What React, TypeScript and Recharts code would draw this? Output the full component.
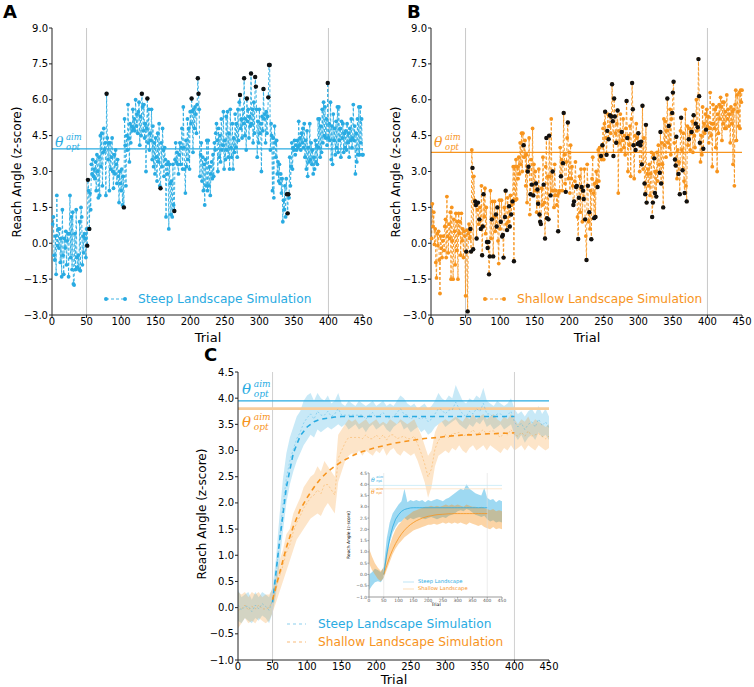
import React from 'react';
import { ComposedChart, Line, Area, XAxis, YAxis, ReferenceLine } from 'recharts';

const BLUE = '#29abe2';
const ORANGE = '#f7941d';
const FONT = '"DejaVu Sans", sans-serif';
const SERIF = '"DejaVu Serif", serif';

const trialTicks = [0, 50, 100, 150, 200, 250, 300, 350, 400, 450];
const abTicks = [-3, -1.5, 0, 1.5, 3, 4.5, 6, 7.5, 9];
const cTicks = [-1, -0.5, 0, 0.5, 1, 1.5, 2, 2.5, 3, 3.5, 4, 4.5];

// Panel A: steep landscape, reach angle per trial (1..450)
const steepTrials = [
  0.8, 1.1, -0.5, -0.7, 0.3, -1.3, 2.0, -0.1, 0.6, -0.2, 0.6, -0.8, 0.2, -1.4, 1.4, -0.5, -1.3, 0.2, -0.2, 0.5, -0.9, 0.1, 0.4, -1.4, 0.4,
  2.0, -0.6, 1.1, -1.1, 1.3, -1.7, -1.75, 0.4, -1.1, 1.4, -0.6, -1.0, -0.5, -1.1, 0.9, -1.15, 1.5, 1.1, -0.9, 0.3, -0.4, 0.4, 0.2, -0.6, 0.6,
  -0.1, 2.65, 2.2, 0.6, 2.1, 1.4, 3.3, 2.9, 3.5, 2.8, 3.1, 2.7, 3.4, 2.2, 3.7, 3.0, 1.9, 3.6, 2.0, 4.5, 3.2, 4.6, 2.4, 3.8, 4.8,
  3.9, 4.2, 2.0, 6.25, 4.4, 3.5, 4.2, 2.2, 4.2, 3.1, 3.6, 4.4, 3.0, 2.3, 3.7, 2.9, 3.9, 3.3, 2.5, 3.5, 2.8, 1.7, 3.0, 2.5, 2.2,
  3.1, 1.6, 2.8, 1.5, 5.2, 4.1, 2.4, 4.5, 3.9, 5.8, 4.4, 3.4, 5.0, 4.2, 4.9, 4.7, 5.6, 4.8, 5.2, 4.7, 6.0, 4.9, 5.4, 4.6, 5.5,
  5.9, 4.1, 5.3, 4.5, 6.25, 5.7, 4.7, 5.8, 4.4, 5.0, 3.0, 4.8, 6.05, 4.2, 5.6, 3.9, 4.6, 4.3, 5.6, 3.5, 4.9, 3.2, 4.2, 2.9, 4.4,
  3.6, 2.6, 4.6, 3.4, 5.0, 2.4, 2.3, 4.2, 3.2, 4.8, 3.9, 2.8, 4.0, 3.5, 1.1, 3.3, 2.9, 3.4, 0.6, 3.3, 2.5, 1.2, 2.6, 1.1, 3.3,
  1.6, 1.35, 3.5, 4.2, 3.4, 3.8, 3.3, 2.9, 3.7, 4.2, 3.3, 4.0, 4.8, 3.1, 5.7, 4.0, 3.1, 2.1, 4.3, 3.2, 5.2, 3.5, 4.8, 3.1, 5.5,
  5.0, 6.05, 5.5, 3.8, 5.6, 4.8, 5.7, 5.4, 4.6, 5.8, 6.9, 6.25, 5.6, 2.8, 3.7, 4.2, 2.6, 3.6, 2.2, 3.3, 1.6, 3.5, 2.4, 4.3, 2.2,
  4.3, 2.4, 3.2, 2.0, 2.9, 3.4, 2.7, 3.7, 2.8, 4.2, 3.9, 4.6, 5.0, 4.3, 3.0, 4.8, 3.6, 4.5, 3.4, 5.2, 3.9, 4.1, 5.5, 3.1, 4.3,
  3.5, 5.3, 3.9, 5.5, 3.6, 4.6, 3.1, 5.6, 4.0, 3.6, 5.0, 3.1, 4.4, 3.8, 5.4, 4.0, 5.0, 3.6, 5.6, 4.3, 5.9, 6.2, 4.8, 5.2, 4.4,
  5.6, 5.0, 6.9, 4.5, 5.2, 3.9, 6.05, 5.1, 5.6, 4.4, 5.3, 4.9, 7.1, 5.0, 5.6, 4.2, 5.9, 4.6, 6.95, 6.55, 5.6, 3.6, 5.1, 4.2, 5.6,
  4.6, 5.0, 3.0, 5.3, 4.7, 6.45, 5.2, 5.4, 4.2, 5.5, 4.6, 5.3, 6.1, 7.45, 7.45, 3.9, 5.0, 4.5, 2.2, 4.4, 1.9, 4.9, 4.2, 3.6, 4.3,
  2.9, 3.4, 2.6, 3.3, 2.5, 2.9, 2.1, 2.7, 0.9, 1.8, 1.4, 2.4, 1.1, 2.7, 2.05, 1.25, 2.05, 1.9, 3.6, 2.4, 3.2, 4.2, 3.1, 4.0, 3.9,
  4.3, 3.7, 4.1, 3.9, 4.3, 4.0, 5.1, 4.1, 4.4, 3.9, 4.6, 4.2, 4.8, 4.0, 5.0, 3.6, 4.3, 3.1, 4.7, 2.8, 4.0, 3.4, 5.0, 3.5, 4.2,
  3.3, 3.9, 2.9, 3.6, 3.1, 4.3, 3.4, 4.1, 3.3, 5.2, 4.0, 5.2, 3.6, 4.9, 3.8, 5.6, 4.2, 5.9, 4.5, 5.7, 4.4, 5.2, 4.1, 6.7, 4.4,
  5.0, 4.3, 5.9, 3.5, 4.9, 3.3, 5.4, 4.3, 4.8, 3.7, 5.1, 4.0, 5.7, 3.8, 5.7, 4.3, 4.8, 3.6, 5.1, 4.4, 5.0, 3.8, 4.6, 4.0, 4.7,
  3.9, 5.0, 4.2, 4.6, 3.6, 4.8, 4.3, 5.2, 4.0, 4.4, 5.8, 4.3, 4.9, 2.9, 4.6, 3.4, 5.2, 3.7, 5.7, 3.7, 5.7, 4.2, 5.2, 3.7, 3.7,
];
// trials drawn as black dots
const steepExplore = [51, 52, 54, 79, 104, 130, 138, 157, 177, 202, 211, 212, 272, 278, 282, 288, 294, 295, 306, 313, 314, 315, 340, 341, 342, 399];

// Panel B: shallow landscape
const shallowTrials = [
  0.2, 1.65, 0.7, 1.3, -0.05, 0.6, -0.8, -1.45, 0.4, -0.1, 0.5, -0.7, -2.1, 0.3, -0.2, -0.6, 0.1, 0.3, -0.3, 0.7, 1.0, -0.6, 1.95, 0.3, -0.4,
  0.8, 0.2, 1.3, -1.5, 1.5, 0.1, -1.5, 1.0, 0.5, -0.9, 1.25, -0.3, 0.9, -1.5, 1.25, 0.4, 0.9, -0.5, 1.25, 0.1, 0.6, -0.6, 0.5, 0.3, -2.2,
  -0.35, 0.55, -2.85, 0.4, 0.8, 0.2, 0.6, -0.35, 3.9, 3.15, -0.25, 2.8, 1.8, 1.75, 1.6, 0.2, 1.4, 1.7, 0.8, 1.0, 1.5, 0.6, 2.4, -0.5, 0.7,
  2.05, 1.1, 2.3, 0.4, 1.5, 0.05, -0.2, 0.05, -1.3, -0.55, 2.2, 0.2, 1.0, 1.75, -0.55, 1.1, 1.75, 0.5, 1.2, 0.7, 1.5, 0.1, -0.85, 1.8, 0.6,
  0.9, 1.8, 0.28, 0.35, -0.6, 1.5, 1.1, 2.2, 0.8, 0.55, 1.9, 0.9, 1.55, 0.7, 2.0, 1.2, 1.6, 1.75, 3.2, -0.75, 3.2, 1.8, 3.5, 1.85, 3.2,
  2.7, 3.6, 2.9, 4.2, 3.3, 4.6, 3.0, 4.6, 4.1, 3.6, 4.3, 2.4, 3.7, 1.7, 3.0, 3.2, 4.4, 1.2, 2.05, 3.5, 2.45, 4.8, 2.0, 3.3, 2.2,
  3.0, 2.5, 1.3, 2.25, 1.65, 3.1, 1.2, 0.9, 0.8, 2.3, 1.6, 3.6, 2.45, 1.7, 0.2, 3.2, 4.4, 1.05, 2.8, 1.0, 4.5, 2.8, 2.0, 5.2, 2.2,
  3.0, 2.2, 1.5, 3.3, 2.0, 2.2, 1.6, 2.0, 0.5, 2.1, 2.2, 4.0, 2.8, 3.5, 2.2, 3.35, 5.45, 3.7, 2.5, 2.15, 3.4, 4.4, 5.05, 2.7, 3.8,
  2.1, 4.1, 2.7, 3.2, 2.4, 1.6, 1.75, 2.6, 3.4, 2.35, 2.4, 1.1, 0.18, 1.9, 2.8, 1.3, 3.1, 2.35, 0.9, 2.2, 1.85, 3.1, 1.0, 0.3, -0.7,
  3.3, 2.4, 0.9, 1.3, 0.6, 2.2, 0.17, 2.7, 3.6, 2.1, 1.05, 2.5, 1.1, 3.0, 2.6, 2.35, 3.9, 2.6, 4.0, 3.6, 3.65, 3.5, 4.1, 4.8, 3.5,
  5.0, 5.5, 4.4, 3.7, 4.7, 5.4, 4.35, 4.9, 5.35, 4.6, 5.3, 6.65, 5.1, 3.65, 6.05, 5.3, 4.6, 4.2, 5.0, 5.55, 2.1, 4.7, 4.2, 5.4, 3.9,
  4.65, 4.3, 5.2, 4.0, 4.5, 3.7, 4.8, 5.95, 4.4, 3.0, 4.5, 4.1, 4.9, 2.8, 5.2, 6.7, 5.6, 4.1, 2.7, 4.5, 3.9, 5.0, 4.4, 4.15, 4.6,
  4.2, 3.0, 4.1, 4.25, 3.3, 5.75, 3.1, 4.4, 2.5, 2.05, 4.95, 1.7, 2.9, 3.1, 2.4, 3.3, 2.0, 2.9, 3.8, 1.1, 1.7, 3.7, 3.55, 2.1, 3.0,
  1.95, 3.8, 2.6, 4.1, 3.3, 2.95, 4.65, 2.5, 4.2, 3.3, 1.5, 5.2, 4.1, 5.1, 3.6, 4.7, 6.05, 4.2, 4.9, 4.0, 5.6, 3.7, 5.2, 5.45, 6.3,
  6.75, 4.2, 3.5, 3.25, 4.45, 2.7, 3.9, 2.9, 3.4, 2.05, 4.7, 5.25, 3.9, 3.05, 4.6, 2.6, 2.1, 5.6, 2.4, 1.75, 4.9, 4.1, 4.35, 4.8, 3.9,
  4.6, 4.65, 5.1, 3.8, 5.35, 4.5, 4.0, 5.0, 6.0, 4.7, 4.85, 7.7, 6.15, 4.2, 3.4, 4.5, 3.7, 5.7, 3.95, 5.0, 4.6, 5.4, 4.75, 5.6, 4.9,
  5.3, 4.2, 4.8, 6.3, 4.5, 5.0, 3.2, 5.8, 5.0, 4.8, 5.6, 4.0, 5.7, 3.0, 5.4, 4.6, 5.8, 5.2, 6.1, 5.7, 4.3, 5.9, 5.0, 5.9, 4.8,
  5.5, 4.8, 6.2, 5.2, 5.6, 4.9, 5.4, 4.2, 5.7, 5.0, 5.5, 3.3, 5.6, 2.4, 5.8, 6.4, 4.3, 6.2, 5.5, 4.9, 6.3, 4.8, 6.4, 5.9, 6.4,
];
const shallowExplore = [
  51, 53, 57, 58, 60, 61, 64, 65, 66, 68, 70, 72, 74, 75, 76, 81, 82, 83, 84, 85, 88, 90, 94, 95, 96, 101, 103, 104, 105, 107,
  108, 110, 113, 114, 116, 118, 120, 134, 140, 141, 144, 146, 148, 152, 154, 155, 157, 158, 159, 163, 165, 167, 168, 170, 171,
  173, 176, 184, 188, 191, 192, 195, 198, 206, 207, 210, 211, 213, 214, 218, 220, 221, 223, 225, 227, 229, 232, 236, 238, 241,
  246, 248, 252, 254, 255, 257, 259, 261, 262, 263, 264, 265, 266, 268, 270, 276, 283, 284, 291, 292, 293, 296, 299, 300, 301,
  303, 304, 305, 306, 309, 310, 311, 312, 320, 321, 323, 324, 326, 331, 332, 333, 336, 342, 344, 349, 350, 351, 353, 354, 355,
  358, 360, 362, 364, 367, 370, 373, 377, 380, 383, 386, 387, 388, 389, 394, 398,
];

// Panel C: mean band, sampled every 5 trials
const bandTrials = [
  0, 5, 10, 15, 20, 25, 30, 35, 40, 45, 50, 55, 60, 65, 70, 75, 80, 85, 90, 95, 100, 105, 110, 115, 120, 125, 130, 135, 140, 145,
  150, 155, 160, 165, 170, 175, 180, 185, 190, 195, 200, 205, 210, 215, 220, 225, 230, 235, 240, 245, 250, 255, 260, 265, 270, 275,
  280, 285, 290, 295, 300, 305, 310, 315, 320, 325, 330, 335, 340, 345, 350, 355, 360, 365, 370, 375, 380, 385, 390, 395, 400, 405,
  410, 415, 420, 425, 430, 435, 440, 445, 450,
];
const steepLo = [
  -0.25, -0.3, -0.2, -0.25, -0.3, -0.2, -0.25, -0.15, -0.2, -0.3,
  -0.1, 0.25, 0.85, 1.45, 2.0, 2.35, 2.6, 2.8, 2.95, 3.1,
  3.2, 3.3, 3.25, 3.4, 3.35, 3.4, 3.45, 3.4, 3.45, 3.5,
  3.45, 3.5, 3.4, 3.45, 3.5, 3.4, 3.45, 3.35, 3.45, 3.5,
  3.4, 3.45, 3.5, 3.4, 3.35, 3.45, 3.5, 3.55, 3.4, 3.45,
  3.35, 3.4, 3.45, 3.35, 3.4, 3.3, 3.35, 3.45, 3.5, 3.55,
  3.45, 3.5, 3.55, 3.6, 3.5, 3.45, 3.4, 3.5, 3.45, 3.55,
  3.5, 3.6, 3.45, 3.5, 3.4, 3.45, 3.5, 3.4, 3.45, 3.5,
  3.3, 3.2, 3.3, 3.15, 3.25, 3.3, 3.2, 3.35, 3.25, 3.3, 3.2,
];
const steepHi = [
  0.35, 0.2, 0.25, 0.3, 0.15, 0.3, 0.2, 0.3, 0.25, 0.2,
  0.4, 0.95, 1.75, 2.45, 2.95, 3.25, 3.45, 3.65, 3.75, 3.95,
  4.05, 4.1, 3.95, 4.1, 4.0, 3.95, 4.05, 3.9, 3.95, 4.1,
  3.9, 3.85, 3.95, 3.9, 3.85, 3.95, 3.9, 3.85, 3.9, 3.95,
  3.85, 3.9, 3.95, 3.85, 3.9, 3.85, 3.95, 4.05, 4.0, 3.9,
  3.85, 3.9, 3.8, 3.85, 3.9, 3.8, 3.85, 3.95, 4.1, 4.0,
  3.95, 4.05, 4.0, 4.25, 4.1, 3.95, 3.9, 4.0, 3.95, 4.05,
  4.0, 4.2, 3.95, 3.9, 3.85, 3.95, 3.9, 3.85, 3.9, 4.0,
  3.8, 3.7, 3.75, 3.65, 3.75, 3.8, 3.7, 3.85, 3.7, 3.8, 3.65,
];
const shallowLo = [
  -0.4, -0.3, -0.2, -0.3, -0.25, -0.3, -0.2, -0.25, -0.3, -0.25,
  -0.1, 0.1, 0.3, 0.5, 0.7, 0.9, 1.1, 1.3, 1.4, 1.5,
  1.6, 1.7, 1.75, 1.8, 1.75, 1.9, 2.0, 1.9, 1.8, 2.4,
  2.6, 2.8, 2.9, 2.95, 2.9, 3.0, 2.9, 3.0, 2.95, 2.9,
  3.0, 2.95, 3.05, 2.9, 3.0, 3.05, 2.95, 2.9, 3.0, 2.95,
  2.9, 2.95, 2.8, 2.6, 2.4, 2.1, 2.3, 2.7, 2.9, 2.95,
  3.0, 2.95, 3.05, 3.0, 3.1, 3.0, 2.95, 3.05, 3.1, 3.0,
  3.05, 3.1, 3.0, 3.1, 3.05, 3.0, 2.95, 3.05, 3.0, 3.1,
  3.0, 3.05, 3.1, 3.0, 3.1, 3.05, 3.0, 3.1, 3.05, 3.0, 3.05,
];
const shallowHi = [
  0.3, 0.25, 0.3, 0.2, 0.3, 0.25, 0.3, 0.2, 0.25, 0.25,
  0.35, 0.6, 0.9, 1.1, 1.4, 1.5, 1.8, 1.95, 2.1, 2.3,
  2.4, 2.5, 2.55, 2.7, 2.6, 2.8, 2.7, 2.6, 2.5, 3.3,
  3.4, 3.5, 3.6, 3.55, 3.6, 3.5, 3.55, 3.6, 3.5, 3.55,
  3.6, 3.5, 3.55, 3.5, 3.6, 3.55, 3.5, 3.6, 3.55, 3.5,
  3.55, 3.6, 3.45, 3.3, 3.1, 2.9, 3.0, 3.35, 3.5, 3.55,
  3.6, 3.55, 3.6, 3.65, 3.6, 3.55, 3.65, 3.6, 3.7, 3.6,
  3.65, 3.7, 3.6, 3.65, 3.7, 3.6, 3.55, 3.65, 3.6, 3.7,
  3.6, 3.5, 3.6, 3.55, 3.65, 3.5, 3.6, 3.55, 3.5, 3.45, 3.5,
];

// fitted curves, every 10 trials from 50 to 400
const fitTrials = [
  50, 60, 70, 80, 90, 100, 110, 120, 130, 140, 150, 160, 170, 180, 190, 200, 210, 220, 230, 240, 250, 260, 270, 280, 290, 300,
  310, 320, 330, 340, 350, 360, 370, 380, 390, 400,
];
const steepFit = [
  0.1, 1.25, 2.3, 2.95, 3.28, 3.45, 3.55, 3.6, 3.62, 3.64, 3.65, 3.65, 3.65, 3.65, 3.65, 3.65, 3.65, 3.65, 3.65, 3.65, 3.65,
  3.65, 3.65, 3.65, 3.65, 3.65, 3.65, 3.65, 3.65, 3.65, 3.65, 3.65, 3.65, 3.65, 3.65, 3.65,
];
const shallowFit = [
  0.15, 0.65, 1.15, 1.55, 1.87, 2.1, 2.3, 2.47, 2.6, 2.7, 2.79, 2.86, 2.93, 2.98, 3.02, 3.06, 3.09, 3.12, 3.15, 3.17, 3.19,
  3.21, 3.23, 3.24, 3.25, 3.27, 3.28, 3.29, 3.3, 3.3, 3.31, 3.32, 3.32, 3.33, 3.33, 3.34,
];

// inset (experimental data), every 10 trials
const insetTrials = [
  0, 10, 20, 30, 40, 50, 60, 70, 80, 90, 100, 110, 120, 130, 140, 150, 160, 170, 180, 190, 200, 210, 220, 230, 240, 250, 260,
  270, 280, 290, 300, 310, 320, 330, 340, 350, 360, 370, 380, 390, 400, 410, 420, 430, 440, 450,
];
const insetSteepLo = [
  -0.7, -0.5, -0.35, -0.3, -0.35, -0.15, 0.7, 1.4, 1.85, 2.1, 2.3, 2.35, 2.5, 2.4, 2.5, 2.45, 2.5, 2.55, 2.5, 2.45, 2.5, 2.55,
  2.5, 2.45, 2.5, 2.55, 2.5, 2.6, 2.65, 2.7, 2.8, 2.85, 2.8, 2.9, 2.85, 2.75, 2.65, 2.6, 2.55, 2.6, 2.45, 2.35, 2.4, 2.3, 2.35, 2.3,
];
const insetSteepHi = [
  0.0, 0.1, 0.25, 0.2, 0.1, 0.35, 1.6, 2.3, 2.7, 2.9, 3.1, 3.25, 3.8, 3.2, 3.3, 3.25, 3.3, 3.25, 3.3, 3.2, 3.3, 3.25, 3.3,
  3.35, 3.3, 3.25, 3.35, 3.4, 3.5, 3.6, 3.7, 3.8, 3.75, 4.0, 3.8, 3.7, 3.6, 3.55, 3.5, 3.85, 3.4, 3.3, 3.35, 3.2, 3.3, 3.25,
];
const insetShallowLo = [
  0.5, 0.2, 0.0, -0.2, -0.3, -0.15, 0.2, 0.55, 0.9, 1.15, 1.35, 1.5, 1.65, 1.75, 1.85, 1.95, 2.0, 2.05, 2.1, 2.15, 2.2, 2.2,
  2.25, 2.2, 2.25, 2.3, 2.25, 2.3, 2.25, 2.3, 2.25, 2.3, 2.25, 2.2, 2.3, 2.25, 2.2, 2.15, 2.2, 2.1, 2.05, 2.0, 2.1, 2.0, 2.05, 2.0,
];
const insetShallowHi = [
  1.15, 0.8, 0.5, 0.3, 0.15, 0.3, 0.9, 1.3, 1.7, 2.0, 2.2, 2.35, 2.5, 2.6, 2.7, 2.8, 2.85, 2.9, 2.95, 3.0, 3.0, 3.05, 3.0,
  3.05, 3.0, 3.05, 3.1, 3.05, 3.1, 3.05, 3.1, 3.05, 3.0, 3.1, 3.05, 3.0, 3.0, 2.95, 3.0, 2.95, 2.9, 2.85, 2.9, 2.8, 2.85, 2.8,
];
const insetSteepFit = [
  0.0, 0.9, 1.6, 2.1, 2.45, 2.65, 2.8, 2.88, 2.92, 2.95, 2.96, 2.96, 2.96, 2.96, 2.96, 2.96, 2.96, 2.96, 2.96, 2.96, 2.96,
  2.96, 2.96, 2.96, 2.96, 2.96, 2.96, 2.96, 2.96, 2.96, 2.96, 2.96, 2.96, 2.96, 2.96, 2.96,
];
const insetShallowFit = [
  0.0, 0.4, 0.78, 1.1, 1.37, 1.6, 1.8, 1.96, 2.1, 2.21, 2.3, 2.38, 2.44, 2.5, 2.54, 2.58, 2.6, 2.63, 2.65, 2.66, 2.67, 2.68,
  2.69, 2.69, 2.7, 2.7, 2.7, 2.7, 2.7, 2.7, 2.7, 2.7, 2.7, 2.7, 2.7, 2.7,
];

const fmt = (v: number) => (v < 0 ? '\u2212' : '') + Math.abs(v).toFixed(1);

const band = (xs: number[], lo: number[], hi: number[]) =>
  xs.map((t, i) => ({ t, r: [lo[i], hi[i]], m: (lo[i] + hi[i]) / 2 }));
const curve = (xs: number[], ys: number[]) => xs.map((t, i) => ({ t, v: ys[i] }));

function Theta({ x, y, color, size }: { x: number; y: number; color: string; size: number }) {
  return (
    <div
      style={{
        position: 'absolute', left: x, top: y, color, fontFamily: SERIF, fontStyle: 'italic',
        display: 'flex', alignItems: 'center', lineHeight: 1,
      }}
    >
      <span style={{ fontSize: size, paddingRight: size * 0.12 }}>θ</span>
      <span style={{ display: 'flex', flexDirection: 'column', fontSize: size * 0.6, marginLeft: 1, gap: size * 0.08 }}>
        <span>aim</span>
        <span>opt</span>
      </span>
    </div>
  );
}

const abs = (left: number, top: number, extra: React.CSSProperties = {}): React.CSSProperties => ({
  position: 'absolute', left, top, ...extra,
});

function YLabel({ x, y, size, text }: { x: number; y: number; size: number; text: string }) {
  return (
    <div
      style={abs(x, y, {
        transform: 'translate(-50%, -50%) rotate(-90deg)', whiteSpace: 'nowrap',
        fontFamily: FONT, fontSize: size, color: '#000', lineHeight: 1,
      })}
    >
      {text}
    </div>
  );
}

function XLabel({ x, y, size, text }: { x: number; y: number; size: number; text: string }) {
  return (
    <div
      style={abs(x, y, {
        transform: 'translate(-50%, -50%)', fontFamily: FONT, fontSize: size, color: '#000', lineHeight: 1,
      })}
    >
      {text}
    </div>
  );
}

function Letter({ x, y, text }: { x: number; y: number; text: string }) {
  return (
    <div style={abs(x, y, { fontFamily: FONT, fontWeight: 'bold', fontSize: 18, lineHeight: 1, color: '#000' })}>
      {text}
    </div>
  );
}

interface TrialPanelProps {
  left: number;
  letterX: number;
  values: number[];
  explore: number[];
  color: string;
  theta: number;
  legend: string;
  letter: string;
}

function TrialPanel({ left, letterX, values, explore, color, theta, legend, letter }: TrialPanelProps) {
  const rows = values.map((v, i) => ({ t: i + 1, v }));
  const blackRows = explore.map((t) => ({ t, v: values[t - 1] }));
  const tick = { fontSize: 10, fill: '#000', fontFamily: FONT };
  return (
    <>
      <div style={abs(left, 0)}>
        <ComposedChart width={377} height={345} margin={{ top: 28, right: 14, bottom: 0, left: 12 }}>
          <XAxis
            type="number" dataKey="t" domain={[0, 450]} ticks={trialTicks} interval={0}
            tick={tick} tickSize={3} tickMargin={0} stroke="#222" height={30}
          />
          <YAxis
            type="number" domain={[-3, 9]} ticks={abTicks} interval={0} tickFormatter={fmt}
            tick={tick} tickSize={3} tickMargin={1} stroke="#222" width={40}
          />
          <ReferenceLine x={50} stroke="#c8c8c8" />
          <ReferenceLine x={400} stroke="#c8c8c8" />
          <ReferenceLine y={theta} stroke={color} strokeWidth={1.2} />
          <Line
            data={rows} dataKey="v" stroke={color} strokeWidth={0.9} strokeDasharray="3 2"
            dot={{ r: 1.9, fill: color, stroke: color, strokeWidth: 0 }} activeDot={false}
            isAnimationActive={false}
          />
          <Line
            data={blackRows} dataKey="v" stroke="none"
            dot={{ r: 2.2, fill: '#111', stroke: '#111', strokeWidth: 0 }} activeDot={false}
            isAnimationActive={false}
          />
        </ComposedChart>
      </div>
      <Letter x={letterX} y={3} text={letter} />
      <YLabel x={left + 17} y={172} size={12} text="Reach Angle (z-score)" />
      <XLabel x={left + 208} y={337} size={13} text="Trial" />
      <div style={abs(left + 103, 291, { display: 'flex', alignItems: 'center' })}>
        <svg width={24} height={16}>
          <line x1={3} y1={8} x2={22} y2={8} stroke={color} strokeWidth={0.9} strokeDasharray="3 2" />
          <circle cx={3} cy={8} r={2} fill={color} />
          <circle cx={22} cy={8} r={2} fill={color} />
        </svg>
        <span style={{ marginLeft: 11, fontFamily: FONT, fontSize: 12.2, color }}>{legend}</span>
      </div>
      <Theta x={left + 55} y={133} color={color} size={14} />
    </>
  );
}

function SummaryPanel() {
  const tick = { fontSize: 10, fill: '#000', fontFamily: FONT };
  const tinyTick = { fontSize: 4.4, fill: '#555', fontFamily: FONT };
  return (
    <>
      <div style={abs(180, 340)}>
        <ComposedChart width={380} height={350} margin={{ top: 32, right: 11, bottom: 0, left: 18 }}>
          <XAxis
            type="number" dataKey="t" domain={[0, 450]} ticks={trialTicks} interval={0}
            tick={tick} tickSize={3} tickMargin={0} stroke="#222" height={30}
          />
          <YAxis
            type="number" domain={[-1, 4.5]} ticks={cTicks} interval={0} tickFormatter={fmt}
            tick={tick} tickSize={3} tickMargin={1} stroke="#222" width={40}
          />
          <ReferenceLine x={50} stroke="#d0d0d0" />
          <ReferenceLine x={400} stroke="#d0d0d0" />
          <ReferenceLine y={3.95} stroke={BLUE} strokeWidth={1.2} />
          <ReferenceLine y={3.8} stroke="#f7cd9c" strokeWidth={2.6} />
          <Area
            data={band(bandTrials, steepLo, steepHi)} dataKey="r" stroke="none" fill={BLUE}
            fillOpacity={0.26} isAnimationActive={false}
          />
          <Line
            data={band(bandTrials, steepLo, steepHi)} dataKey="m" stroke={BLUE} strokeOpacity={0.45}
            strokeWidth={0.8} strokeDasharray="2 2" dot={false} activeDot={false} isAnimationActive={false}
          />
          <Area
            data={band(bandTrials, shallowLo, shallowHi)} dataKey="r" stroke="none" fill={ORANGE}
            fillOpacity={0.24} isAnimationActive={false}
          />
          <Line
            data={band(bandTrials, shallowLo, shallowHi)} dataKey="m" stroke={ORANGE} strokeOpacity={0.45}
            strokeWidth={0.8} strokeDasharray="2 2" dot={false} activeDot={false} isAnimationActive={false}
          />
          <Line
            data={curve(fitTrials, steepFit)} dataKey="v" stroke={BLUE} strokeWidth={1.6}
            strokeDasharray="5 4" dot={false} activeDot={false} isAnimationActive={false}
          />
          <Line
            data={curve(fitTrials, shallowFit)} dataKey="v" stroke={ORANGE} strokeWidth={1.6}
            strokeDasharray="5 4" dot={false} activeDot={false} isAnimationActive={false}
          />
        </ComposedChart>
      </div>

      <div style={abs(340, 465)}>
        <ComposedChart width={170} height={145} margin={{ top: 8, right: 8, bottom: 0, left: 9 }}>
          <XAxis
            type="number" dataKey="t" domain={[0, 450]} ticks={trialTicks} interval={0}
            tick={tinyTick} tickSize={1.5} tickMargin={0} stroke="#999" height={13}
          />
          <YAxis
            type="number" domain={[-1, 4.5]} ticks={cTicks} interval={0} tickFormatter={fmt}
            tick={tinyTick} tickSize={1.5} tickMargin={0.5} stroke="#999" width={20}
          />
          <ReferenceLine x={50} stroke="#dddddd" strokeWidth={0.6} />
          <ReferenceLine x={400} stroke="#dddddd" strokeWidth={0.6} />
          <ReferenceLine y={3.95} stroke="#bfe6f6" strokeWidth={0.7} />
          <ReferenceLine y={3.8} stroke="#fbdcb8" strokeWidth={0.7} />
          <Area
            data={band(insetTrials, insetSteepLo, insetSteepHi)} dataKey="r" stroke="none" fill={BLUE}
            fillOpacity={0.45} isAnimationActive={false}
          />
          <Area
            data={band(insetTrials, insetShallowLo, insetShallowHi)} dataKey="r" stroke="none" fill={ORANGE}
            fillOpacity={0.4} isAnimationActive={false}
          />
          <Line
            data={curve(fitTrials, insetSteepFit)} dataKey="v" stroke={BLUE} strokeWidth={0.8}
            dot={false} activeDot={false} isAnimationActive={false}
          />
          <Line
            data={curve(fitTrials, insetShallowFit)} dataKey="v" stroke={ORANGE} strokeWidth={0.8}
            dot={false} activeDot={false} isAnimationActive={false}
          />
        </ComposedChart>
      </div>

      <Letter x={204} y={346} text="C" />
      <YLabel x={202} y={514} size={12} text="Reach Angle (z-score)" />
      <XLabel x={394} y={679} size={13} text="Trial" />
      <Theta x={242} y={380} color={BLUE} size={15} />
      <Theta x={242} y={413} color={ORANGE} size={15} />

      {[
        { label: 'Steep Landscape Simulation', color: BLUE, pale: '#b3e0f4', y: 616 },
        { label: 'Shallow Landscape Simulation', color: ORANGE, pale: '#fbd2a6', y: 634 },
      ].map((item) => (
        <div key={item.label} style={abs(285, item.y, { display: 'flex', alignItems: 'center' })}>
          <svg width={22} height={16}>
            <line x1={2} y1={8} x2={21} y2={8} stroke={item.pale} strokeWidth={1.4} strokeDasharray="3 3" />
          </svg>
          <span style={{ marginLeft: 11, fontFamily: FONT, fontSize: 12.2, color: item.color }}>{item.label}</span>
        </div>
      ))}

      <YLabel x={349} y={535} size={4.4} text="Reach Angle (z-score)" />
      <XLabel x={436} y={605} size={4.6} text="Trial" />
      <Theta x={371} y={476} color={BLUE} size={6} />
      <Theta x={371} y={488} color={ORANGE} size={6} />
      {[
        { label: 'Steep Landscape', color: BLUE, y: 579 },
        { label: 'Shallow Landscape', color: ORANGE, y: 586 },
      ].map((item) => (
        <div key={item.label} style={abs(403, item.y, { display: 'flex', alignItems: 'center' })}>
          <svg width={12} height={6}>
            <line x1={0} y1={3} x2={11} y2={3} stroke={item.color} strokeOpacity={0.5} strokeWidth={0.6} />
          </svg>
          <span style={{ marginLeft: 3, fontFamily: FONT, fontSize: 5.2, color: item.color, lineHeight: 1 }}>
            {item.label}
          </span>
        </div>
      ))}
    </>
  );
}

export default function App() {
  return (
    <div
      style={{
        position: 'absolute', left: 0, top: 0, width: 754, height: 687, background: '#fff', overflow: 'hidden',
      }}
    >
      <TrialPanel
        left={0} letterX={3} values={steepTrials} explore={steepExplore} color={BLUE} theta={3.95}
        legend="Steep Landscape Simulation" letter="A"
      />
      <TrialPanel
        left={379} letterX={407} values={shallowTrials} explore={shallowExplore} color={ORANGE} theta={3.8}
        legend="Shallow Landscape Simulation" letter="B"
      />
      <SummaryPanel />
    </div>
  );
}
